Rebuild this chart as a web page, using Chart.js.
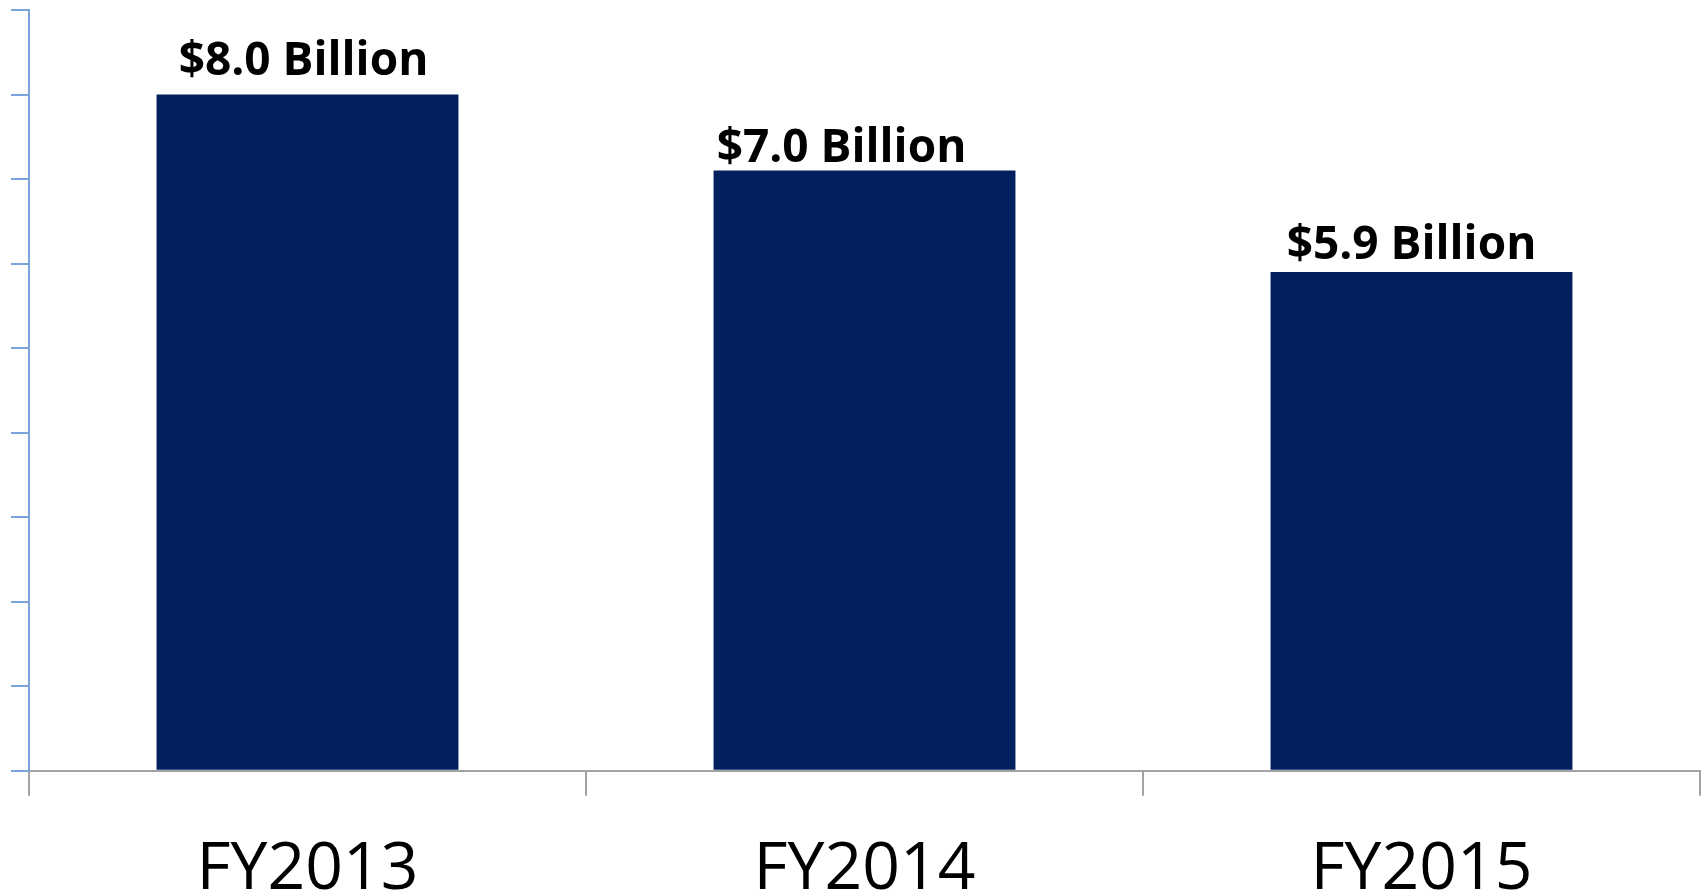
<!DOCTYPE html>
<html lang="en">
<head>
    <meta charset="UTF-8">
    <title>Funding by fiscal year</title>
    <script src="https://cdn.jsdelivr.net/npm/chart.js@4/dist/chart.umd.min.js"></script>
    <style>
        html, body { margin: 0; padding: 0; background: #fff; }
        #wrap { width: 1708px; height: 891px; }
    </style>
</head>

<body>
    <div id="wrap"><canvas id="chart"></canvas></div>
    <script>
        // Data
        var years = ["FY2013", "FY2014", "FY2015"];
        var amounts = [8.0, 7.1, 5.9];
        var amountLabels = ["$8.0 Billion", "$7.0 Billion", "$5.9 Billion"];

        // Label placement (hand tuned, like the original slide)
        var labelLift = [20, 9, 13];
        var labelShift = [-4, -23, -10];

        var navy = "#03205e";
        var blueAxis = "#7ba4dc";
        var greyAxis = "#a3a3a3";

        // draws the value text above every bar
        var valueLabels = {
            id: "valueLabels",
            afterDatasetsDraw: function (chart) {
                var ctx = chart.ctx;
                var meta = chart.getDatasetMeta(0);
                ctx.save();
                ctx.font = "bold 46px 'Open Sans'";
                ctx.fillStyle = "#000";
                ctx.textAlign = "center";
                ctx.textBaseline = "alphabetic";
                meta.data.forEach(function (bar, i) {
                    ctx.fillText(amountLabels[i], bar.x + labelShift[i], bar.y - labelLift[i]);
                });
                ctx.restore();
            }
        };

        var ctx = document.getElementById("chart").getContext("2d");
        var chart = new Chart(ctx, {
            type: "bar",
            data: {
                labels: years,
                datasets: [{
                    data: amounts,
                    backgroundColor: navy,
                    borderWidth: 0,
                    barPercentage: 0.542,
                    categoryPercentage: 1
                }]
            },
            options: {
                responsive: true,
                maintainAspectRatio: false,
                animation: false,
                layout: {
                    // negative bottom pulls the category labels down to the slide edge
                    padding: { left: 11, top: 10, right: 8, bottom: -53 }
                },
                plugins: {
                    legend: { display: false },
                    tooltip: { enabled: false }
                },
                scales: {
                    x: {
                        grid: {
                            offset: true,
                            drawOnChartArea: false,
                            drawTicks: true,
                            tickLength: 25,
                            color: greyAxis,
                            lineWidth: 2
                        },
                        border: { color: greyAxis, width: 2 },
                        ticks: {
                            color: "#000",
                            padding: 49,
                            font: { family: "'Open Sans'", size: 66, lineHeight: 0.76 }
                        }
                    },
                    y: {
                        min: 0,
                        max: 9,
                        ticks: { display: false, stepSize: 1 },
                        grid: {
                            drawOnChartArea: false,
                            drawTicks: true,
                            tickLength: 18,
                            color: blueAxis,
                            lineWidth: 2
                        },
                        border: { color: blueAxis, width: 2 }
                    }
                }
            },
            plugins: [valueLabels]
        });
    </script>
</body>

</html>
